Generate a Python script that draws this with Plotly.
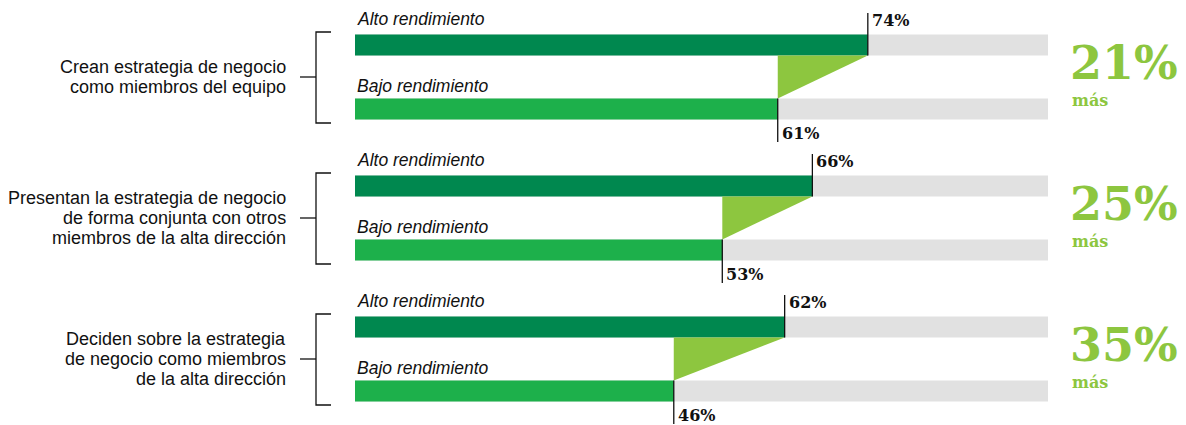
import plotly.graph_objects as go

categories = [
    ["Crean estrategia de negocio", "como miembros del equipo"],
    ["Presentan la estrategia de negocio", "de forma conjunta con otros", "miembros de la alta dirección"],
    ["Deciden sobre la estrategia", "de negocio como miembros", "de la alta dirección"],
]
alto = [74, 66, 62]
bajo = [61, 53, 46]
diff_labels = ["21%", "25%", "35%"]
series_names = ["Alto rendimiento", "Bajo rendimiento"]

DARK = "#00884f"
LIGHT = "#1db04b"
TRI = "#8dc63f"
GRAY = "#e1e1e1"
INK = "#111111"

PAGE_W, PAGE_H = 1186, 425
PAD = 8  # browser body margin
W, H = PAGE_W - PAD, PAGE_H - PAD
X0PX, SCALE = 355, 6.93
GROUP_Y0, GROUP_STEP = 77, 141
OFF = 32
BAR_W = 21
SANS = "Liberation Sans, Arial, sans-serif"
SLAB = "DejaVu Serif, serif"


def px2x(px):
    return (px - X0PX) / SCALE


centers = [GROUP_Y0 + GROUP_STEP * i for i in range(len(categories))]
y_alto = [c - OFF for c in centers]
y_bajo = [c + OFF for c in centers]

fig = go.Figure()

fig.add_trace(go.Bar(x=[100] * (2 * len(categories)), y=y_alto + y_bajo, orientation="h",
                     width=BAR_W, marker=dict(color=GRAY, line_width=0), hoverinfo="skip"))
fig.add_trace(go.Bar(x=alto, y=y_alto, orientation="h", width=BAR_W,
                     marker=dict(color=DARK, line_width=0), name=series_names[0]))
fig.add_trace(go.Bar(x=bajo, y=y_bajo, orientation="h", width=BAR_W,
                     marker=dict(color=LIGHT, line_width=0), name=series_names[1]))

ann = []
for i, c in enumerate(centers):
    a, b = alto[i], bajo[i]
    ya, yb = y_alto[i], y_bajo[i]
    fig.add_trace(go.Scatter(x=[b, a, b, b], y=[ya + BAR_W / 2, ya + BAR_W / 2, yb - BAR_W / 2, ya + BAR_W / 2],
                             mode="lines", fill="toself", fillcolor=TRI, line=dict(width=0, color=TRI),
                             hoverinfo="skip"))
    fig.add_trace(go.Scatter(x=[a, a], y=[c - 64, ya + BAR_W / 2], mode="lines",
                             line=dict(color=INK, width=1.3), hoverinfo="skip"))
    fig.add_trace(go.Scatter(x=[b, b], y=[yb - BAR_W / 2, c + 65], mode="lines",
                             line=dict(color=INK, width=1.3), hoverinfo="skip"))
    bx = px2x(316)
    fig.add_trace(go.Scatter(x=[px2x(331), bx, bx, px2x(331)], y=[c - 45, c - 45, c + 46, c + 46],
                             mode="lines", line=dict(color=INK, width=1.3), hoverinfo="skip"))
    fig.add_trace(go.Scatter(x=[px2x(300), bx], y=[c, c], mode="lines",
                             line=dict(color=INK, width=1.3), hoverinfo="skip"))
    lines = categories[i]
    n = len(lines)
    for k, ln in enumerate(lines):
        ann.append(dict(x=px2x(288), y=c + (k - (n - 1) / 2) * 20, text=ln, xanchor="right", yanchor="middle",
                        align="right", font=dict(family=SANS, size=18, color=INK)))
    ann.append(dict(x=0, y=c - 58, text="<i>" + series_names[0] + "</i>", xanchor="left", yanchor="middle",
                    font=dict(family=SANS, size=17.5, color=INK)))
    ann.append(dict(x=0, y=c + 9, text="<i>" + series_names[1] + "</i>", xanchor="left", yanchor="middle",
                    font=dict(family=SANS, size=17.5, color=INK)))
    ann.append(dict(x=a, y=c - 57, text=f"<b>{a}%</b>", xanchor="left", yanchor="middle", xshift=2,
                    font=dict(family=SLAB, size=16, color=INK)))
    ann.append(dict(x=b, y=c + 56, text=f"<b>{b}%</b>", xanchor="left", yanchor="middle", xshift=2,
                    font=dict(family=SLAB, size=16, color=INK)))
    ann.append(dict(x=px2x(1068), y=c - 14, text=f"<b>{diff_labels[i]}</b>", xanchor="left", yanchor="middle",
                    font=dict(family=SLAB, size=46, color=TRI)))
    ann.append(dict(x=px2x(1070), y=c + 23, text="<b>más</b>", xanchor="left", yanchor="middle",
                    font=dict(family=SLAB, size=16, color=TRI)))

for a_ in ann:
    a_.update(xref="x", yref="y", showarrow=False)

fig.update_layout(
    width=W, height=H, margin=dict(l=0, r=0, t=0, b=0),
    paper_bgcolor="white", plot_bgcolor="white", showlegend=False, barmode="overlay",
    xaxis=dict(range=[px2x(PAD), px2x(PAGE_W)], visible=False, fixedrange=True),
    yaxis=dict(range=[PAGE_H, PAD], visible=False, fixedrange=True),
    annotations=ann,
)
fig.write_html("out.html")
